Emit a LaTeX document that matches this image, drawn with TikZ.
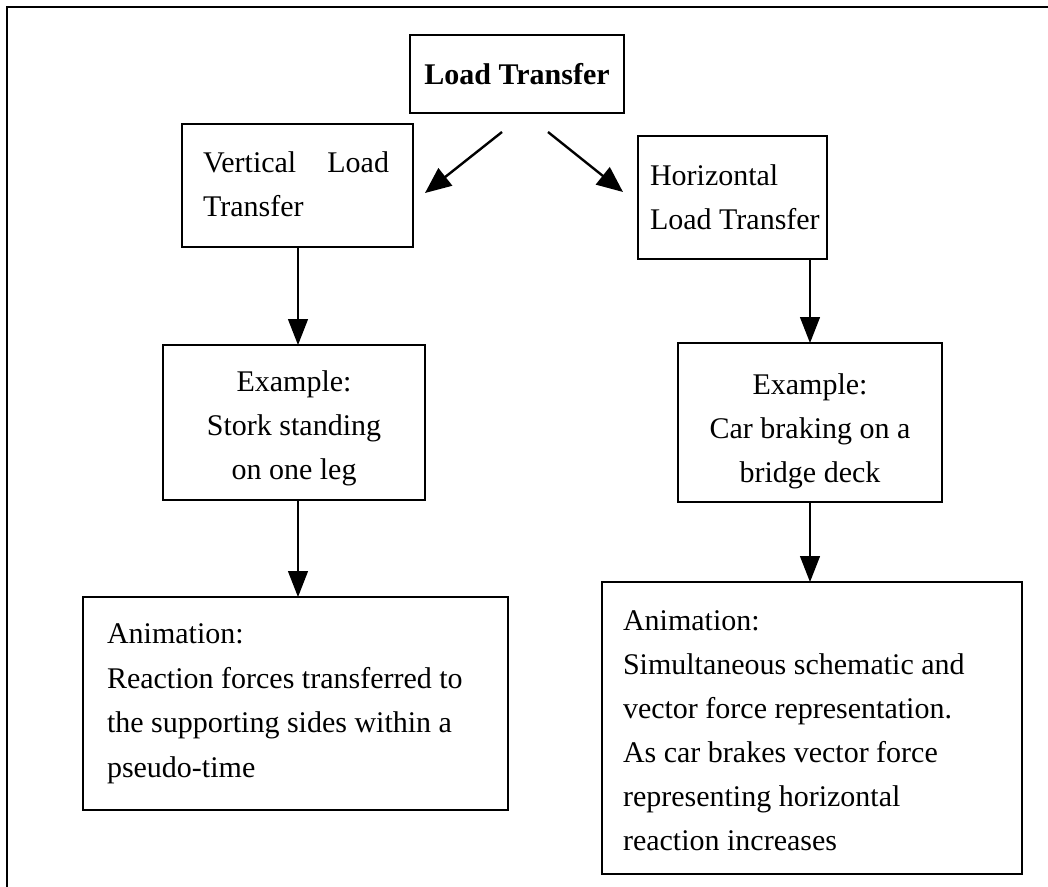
\documentclass[tikz,border=0pt]{standalone}
\usepackage{fontspec}
\setmainfont{Liberation Serif}
\usetikzlibrary{arrows.meta}
\begin{document}
\begin{tikzpicture}[x=1pt,y=-1pt,
  box/.style={draw, line width=1.8pt, inner sep=0pt, outer sep=0pt},
  txt/.style={inner sep=0pt, outer sep=0pt, font=\fontsize{30}{44}\selectfont},
  diagarrow/.style={line width=2.4pt, -{Triangle[length=26pt,width=22pt]}},
  downarrow/.style={line width=1.3pt, -{Triangle[length=26pt,width=20pt]}}]
\useasboundingbox (0,0) rectangle (1048,886);
% outer frame (only the top and left sides fall inside the page)
\draw[line width=2.4pt] (7,900) -- (7,7) -- (1060,7);

% boxes
\node[box, minimum width=214pt, minimum height=78pt] (title) at (517,74) {};
\node[box, minimum width=231pt, minimum height=123pt] (vlt) at (297.5,185.5) {};
\node[box, minimum width=189pt, minimum height=123pt] (hlt) at (732.5,197.5) {};
\node[box, minimum width=262pt, minimum height=155pt] (exl) at (294,422.5) {};
\node[box, minimum width=264pt, minimum height=159pt] (exr) at (810,422.5) {};
\node[box, minimum width=425pt, minimum height=213pt] (anl) at (295.5,703.5) {};
\node[box, minimum width=420pt, minimum height=292pt] (anr) at (812,728) {};

% texts
\node[txt, anchor=base] (titletxt) at (517,84) {\bfseries Load Transfer};

\node[txt, anchor=base west] (vlt1) at (203,172) {\makebox[186pt][s]{Vertical Load}};
\node[txt, anchor=base west] (vlt2) at (203,216) {Transfer};

\node[txt, anchor=base west] (hlt1) at (650,185) {Horizontal};
\node[txt, anchor=base west] (hlt2) at (650,229) {Load Transfer};

\node[txt, anchor=base] (exl1) at (294,391) {Example:};
\node[txt, anchor=base] (exl2) at (294,435) {Stork standing};
\node[txt, anchor=base] (exl3) at (294,479) {on one leg};

\node[txt, anchor=base] (exr1) at (810,394) {Example:};
\node[txt, anchor=base] (exr2) at (810,438) {Car braking on a};
\node[txt, anchor=base] (exr3) at (810,482) {bridge deck};

\node[txt, anchor=base west] (anl1) at (107,643) {Animation:};
\node[txt, anchor=base west] (anl2) at (107,688) {Reaction forces transferred to};
\node[txt, anchor=base west] (anl3) at (107,732) {the supporting sides within a};
\node[txt, anchor=base west] (anl4) at (107,777) {pseudo-time};

\node[txt, anchor=base west] (anr1) at (623,630) {Animation:};
\node[txt, anchor=base west] (anr2) at (623,674) {Simultaneous schematic and};
\node[txt, anchor=base west] (anr3) at (623,718) {vector force representation.};
\node[txt, anchor=base west] (anr4) at (623,762) {As car brakes vector force};
\node[txt, anchor=base west] (anr5) at (623,806) {representing horizontal};
\node[txt, anchor=base west] (anr6) at (623,850) {reaction increases};

% connectors
\coordinate (d1s) at (502,132);
\coordinate (d1e) at (425,193);
\coordinate (d2s) at (548,132);
\coordinate (d2e) at (623,192);
\draw[diagarrow] (d1s) -- (d1e);
\draw[diagarrow] (d2s) -- (d2e);

\coordinate (lx) at (298,0);
\coordinate (rx) at (810,0);
\draw[downarrow] (vlt.south -| lx) -- (exl.north -| lx);
\draw[downarrow] (exl.south -| lx) -- (anl.north -| lx);
\draw[downarrow] (hlt.south -| rx) -- (exr.north -| rx);
\draw[downarrow] (exr.south -| rx) -- (anr.north -| rx);
\end{tikzpicture}
\end{document}
